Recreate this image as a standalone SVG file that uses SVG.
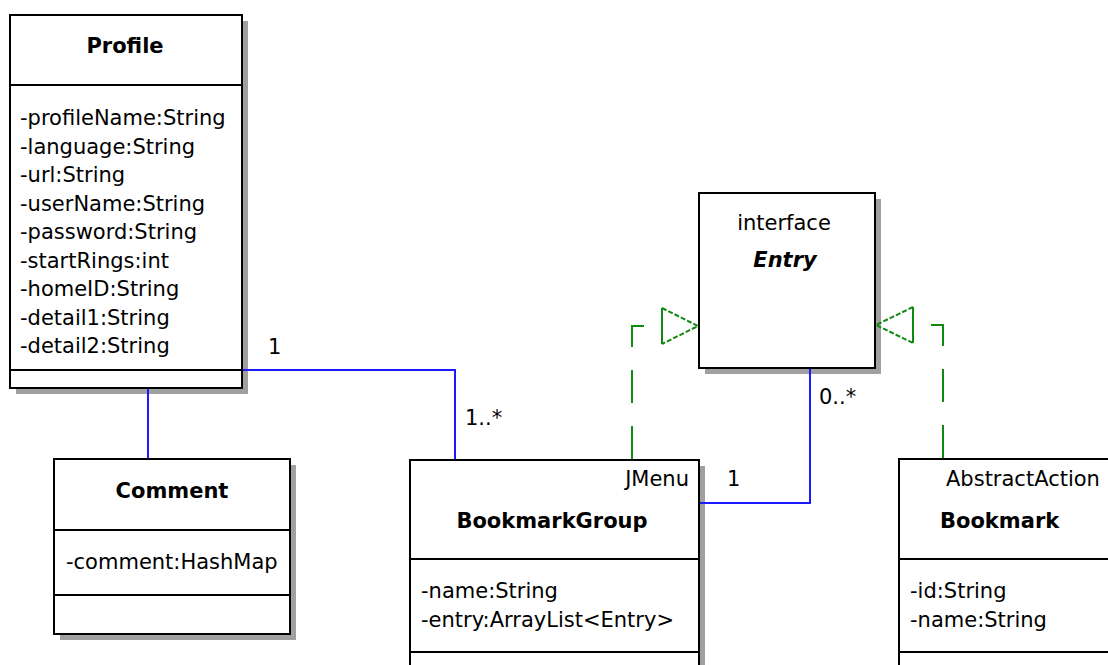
<svg xmlns="http://www.w3.org/2000/svg" width="1108" height="665" viewBox="0 0 1108 665">
<style>
.box{fill:#fff;stroke:#000;stroke-width:2}
.sh{fill:#a0a0a0}
.div{stroke:#000;stroke-width:2}
.t{font-family:"DejaVu Sans",sans-serif;font-size:21px;fill:#000}
.b{font-family:"DejaVu Sans",sans-serif;font-size:21px;font-weight:bold;fill:#000}
.assoc{fill:none;stroke:#1a1aff;stroke-width:2}
.real{fill:none;stroke:#108a10;stroke-width:2;stroke-dasharray:33,23}
.tri{fill:none;stroke:#108a10;stroke-width:2}
</style>
<rect width="1108" height="665" fill="#fff"/>
<g id="profile">
<rect class="sh" x="16" y="21" width="232" height="373"/>
<rect class="box" x="10" y="15" width="232" height="373"/>
<line class="div" x1="10" y1="85" x2="242" y2="85"/>
<line class="div" x1="10" y1="370" x2="242" y2="370"/>
<text class="b" x="125" y="53" text-anchor="middle">Profile</text>
<text class="t" x="20" y="125">-profileName:String</text>
<text class="t" x="20" y="153.5">-language:String</text>
<text class="t" x="20" y="182">-url:String</text>
<text class="t" x="20" y="210.5">-userName:String</text>
<text class="t" x="20" y="239">-password:String</text>
<text class="t" x="20" y="267.5">-startRings:int</text>
<text class="t" x="20" y="296">-homeID:String</text>
<text class="t" x="20" y="324.5">-detail1:String</text>
<text class="t" x="20" y="353">-detail2:String</text>
</g>
<g id="comment">
<rect class="sh" x="60" y="465" width="236" height="175"/>
<rect class="box" x="54" y="459" width="236" height="175"/>
<line class="div" x1="54" y1="530" x2="290" y2="530"/>
<line class="div" x1="54" y1="595" x2="290" y2="595"/>
<text class="b" x="172" y="498" text-anchor="middle">Comment</text>
<text class="t" x="66" y="569">-comment:HashMap</text>
</g>
<g id="entry">
<rect class="sh" x="705" y="199" width="176" height="175"/>
<rect class="box" x="699" y="193" width="176" height="175"/>
<text class="t" x="784" y="230" text-anchor="middle">interface</text>
<text class="b" x="785" y="267" text-anchor="middle" font-style="italic">Entry</text>
</g>
<g id="bookmarkgroup">
<rect class="sh" x="416" y="466" width="289" height="210"/>
<rect class="box" x="410" y="460" width="289" height="210"/>
<line class="div" x1="410" y1="559" x2="699" y2="559"/>
<line class="div" x1="410" y1="652" x2="699" y2="652"/>
<text class="t" x="689" y="486" text-anchor="end">JMenu</text>
<text class="b" x="552" y="528" text-anchor="middle">BookmarkGroup</text>
<text class="t" x="421" y="598">-name:String</text>
<text class="t" x="421" y="627">-entry:ArrayList&lt;Entry&gt;</text>
</g>
<g id="bookmark">
<rect class="sh" x="905" y="465" width="289" height="210"/>
<rect class="box" x="899" y="459" width="289" height="210"/>
<line class="div" x1="899" y1="559" x2="1108" y2="559"/>
<line class="div" x1="899" y1="652" x2="1108" y2="652"/>
<text class="t" x="946" y="486">AbstractAction</text>
<text class="b" x="940" y="528">Bookmark</text>
<text class="t" x="910" y="598">-id:String</text>
<text class="t" x="910" y="627">-name:String</text>
</g>
<g id="connectors">
<path class="assoc" d="M148,389 V458"/>
<path class="assoc" d="M243,370 H455 V459"/>
<path class="assoc" d="M700,503 H810 V369"/>
<path class="real" d="M632,459 V326 H662"/>
<path class="tri" d="M662,308 V344"/>
<path class="tri" stroke-dasharray="5,2" d="M662,308 L698,326 L662,344"/>
<path class="real" d="M943,458 V325 H913"/>
<path class="tri" d="M913,307 V343"/>
<path class="tri" stroke-dasharray="5,2" d="M913,307 L876,325 L913,343"/>
<text class="t" x="268" y="354">1</text>
<text class="t" x="465" y="425">1..*</text>
<text class="t" x="727" y="486">1</text>
<text class="t" x="819" y="404">0..*</text>
</g>
</svg>
